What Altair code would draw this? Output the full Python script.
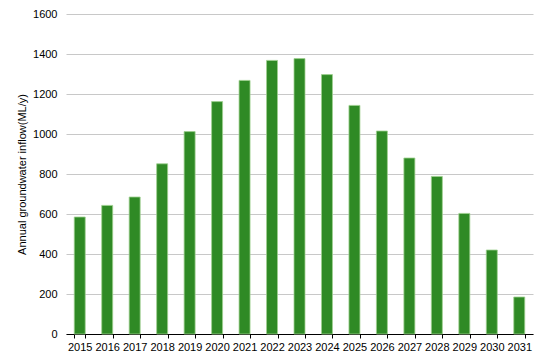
import altair as alt
import pandas as pd

years = [str(y) for y in range(2015, 2032)]
inflow = [585, 643, 685, 851, 1012, 1162, 1268, 1368, 1377, 1297, 1143, 1015, 880, 788, 603, 420, 185]

df = pd.DataFrame({"year": years, "inflow": inflow})

chart = alt.Chart(df).mark_bar(
    color="#2f8a25", stroke="#9fd08f", strokeWidth=0.8
).encode(
    x=alt.X("year:N", title=None, sort=None,
            scale=alt.Scale(paddingInner=0.6, paddingOuter=0.3),
            axis=alt.Axis(labelAngle=0, labelFont="Liberation Sans", labelFontSize=11,
                          labelColor="#000000", domainColor="#000000", tickColor="#000000",
                          tickSize=4, tickBand="extent", labelPadding=3, grid=False)),
    y=alt.Y("inflow:Q", title="Annual groundwater inflow(ML/y)",
            scale=alt.Scale(domain=[0, 1600]),
            axis=alt.Axis(values=list(range(0, 1601, 200)), format="d", labelFont="Liberation Sans",
                          labelFontSize=11, labelColor="#000000", domain=False, ticks=False,
                          labelPadding=9, gridColor="#c8c8c8", gridWidth=1,
                          titleFont="Liberation Sans", titleFontSize=11, titleFontWeight="normal",
                          titleColor="#000000", titlePadding=5)),
).properties(
    width=467, height=320,
    autosize=alt.AutoSizeParams(type="none"),
    padding={"left": 58, "top": 6, "right": 8, "bottom": 20},
).configure_view(stroke=None)

chart.save("out.html", embed_options={"renderer": "svg", "actions": False})
